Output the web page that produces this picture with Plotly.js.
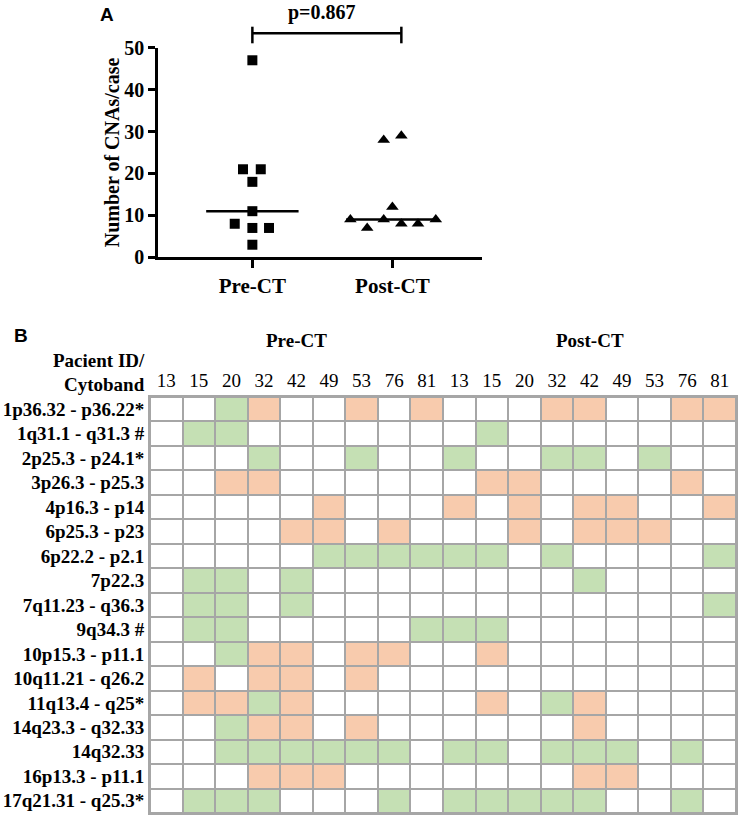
<!DOCTYPE html>
<html>
<head>
<meta charset="utf-8">
<script src="https://cdn.plot.ly/plotly-3.0.1.min.js"></script>
<style>html,body{margin:0;padding:0;background:#fff;}#chart{width:740px;height:818px;}</style>
</head>
<body>
<div id="chart"></div>
<script>
// ---------- Panel A data ----------
const groups = ["Pre-CT", "Post-CT"];
const preValues  = [47, 21, 21, 18, 11, 8, 7, 7, 3];
const preJitter  = [0, -0.067, 0.06, 0, 0, -0.126, 0, 0.119, 0];
const postValues = [29, 28, 12, 9, 7, 9, 8, 8, 9];
const postJitter = [0.064, -0.062, 0, -0.3, -0.18, -0.062, 0.064, 0.183, 0.31];
const pValueText = "p=0.867";

// ---------- Panel B data ----------
const patientIds = ["13", "15", "20", "32", "42", "49", "53", "76", "81"];
const cytobands = [
  "1p36.32 - p36.22*", "1q31.1 - q31.3 #", "2p25.3 - p24.1*", "3p26.3 - p25.3",
  "4p16.3 - p14", "6p25.3 - p23", "6p22.2 - p2.1", "7p22.3", "7q11.23 - q36.3",
  "9q34.3 #", "10p15.3 - p11.1", "10q11.21 - q26.2", "11q13.4 - q25*",
  "14q23.3 - q32.33", "14q32.33", "16p13.3 - p11.1", "17q21.31 - q25.3*"
];
// 0 = none, 1 = green, 2 = orange
const preCT = [
  [0,0,1,2,0,0,2,0,2],
  [0,1,1,0,0,0,0,0,0],
  [0,0,0,1,0,0,1,0,0],
  [0,0,2,2,0,0,0,0,0],
  [0,0,0,0,0,2,0,0,0],
  [0,0,0,0,2,2,0,2,0],
  [0,0,0,0,0,1,1,1,1],
  [0,1,1,0,1,0,0,0,0],
  [0,1,1,0,1,0,0,0,0],
  [0,1,1,0,0,0,0,0,1],
  [0,0,1,2,2,0,2,2,0],
  [0,2,0,2,2,0,2,0,0],
  [0,2,2,1,2,0,0,0,0],
  [0,0,1,2,2,0,2,0,0],
  [0,0,1,1,1,1,1,1,0],
  [0,0,0,2,2,2,0,0,0],
  [0,1,1,1,0,0,0,1,0]
];
const postCT = [
  [0,0,0,2,2,0,0,2,2],
  [0,1,0,0,0,0,0,0,0],
  [1,0,0,1,1,0,1,0,0],
  [0,2,2,0,0,0,0,2,0],
  [2,0,2,0,2,2,0,0,2],
  [0,0,2,0,2,2,2,0,0],
  [1,1,0,1,0,0,0,0,1],
  [0,0,0,0,1,0,0,0,0],
  [0,0,0,0,0,0,0,0,1],
  [1,1,0,0,0,0,0,0,0],
  [0,2,0,0,0,0,0,0,0],
  [0,0,0,0,0,0,0,0,0],
  [0,2,0,1,2,0,0,0,0],
  [0,0,0,0,2,0,0,0,0],
  [1,1,0,1,1,1,0,1,0],
  [0,0,0,0,2,2,0,0,0],
  [1,1,1,1,1,0,0,1,0]
];

// ---------- styles ----------
const SERIF = "Liberation Serif, Times New Roman, serif";
const SANS = "Liberation Sans, Arial, sans-serif";
const GREEN = "#c5e0b4", ORANGE = "#f8cbad", GRID = "#a6a6a6";
const W = 740, H = 818;
const px = v => v / W;
const py = v => (H - v) / H;

function median(a) {
  const s = a.slice().sort((p, q) => p - q);
  const m = Math.floor(s.length / 2);
  return s.length % 2 ? s[m] : (s[m - 1] + s[m]) / 2;
}
const halfLine = 0.33;

const traces = [];
traces.push({
  type: "scatter", mode: "markers", xaxis: "x", yaxis: "y",
  x: preValues.map((v, i) => 0 + preJitter[i]), y: preValues,
  marker: {symbol: "square", size: 10, color: "#000"}, cliponaxis: false, hoverinfo: "y"
});
traces.push({
  type: "scatter", mode: "markers", xaxis: "x", yaxis: "y",
  x: postValues.map((v, i) => 1 + postJitter[i]), y: postValues,
  marker: {symbol: "triangle-up", size: 11, color: "#000"}, cliponaxis: false, hoverinfo: "y"
});
[preValues, postValues].forEach((vals, g) => {
  const m = median(vals);
  traces.push({
    type: "scatter", mode: "lines", xaxis: "x", yaxis: "y",
    x: [g - halfLine, g + halfLine], y: [m, m],
    line: {color: "#000", width: 2.5}, hoverinfo: "skip"
  });
});

// heatmap
const allIds = patientIds.concat(patientIds);
const colIdx = allIds.map((d, i) => i);
const z = cytobands.map((c, r) => preCT[r].concat(postCT[r]));
traces.push({
  type: "heatmap", xaxis: "x2", yaxis: "y2",
  x: colIdx, y: cytobands, z: z, zmin: 0, zmax: 2,
  colorscale: [[0, "#ffffff"], [0.3333, "#ffffff"], [0.3333, GREEN], [0.6667, GREEN], [0.6667, ORANGE], [1, ORANGE]],
  showscale: false, xgap: 2, ygap: 2, hoverinfo: "skip"
});

const bracketY = py(33.3), bracketTop = py(26.7), bracketBot = py(43.3);
const bracketRight = 1.064;
const bold = (size, fam) => ({family: fam || SERIF, size: size, weight: "bold", color: "#000"});

const layout = {
  width: W, height: H,
  margin: {l: 0, r: 0, t: 0, b: 0},
  paper_bgcolor: "#fff", plot_bgcolor: "rgba(0,0,0,0)",
  showlegend: false,
  font: {family: SERIF, color: "#000"},
  xaxis: {
    domain: [px(158), px(482)], anchor: "y",
    range: [-0.674, 1.64], tickvals: [0, 1], ticktext: groups,
    showline: true, linecolor: "#000", linewidth: 2.5,
    ticks: "outside", ticklen: 8, tickwidth: 2.5, tickcolor: "#000",
    showgrid: false, zeroline: false,
    tickfont: bold(21)
  },
  yaxis: {
    domain: [(H - 257.3) / H, (H - 47.7) / H], anchor: "x",
    range: [0, 50], dtick: 10,
    showline: true, linecolor: "#000", linewidth: 2.5,
    ticks: "outside", ticklen: 7, tickwidth: 2.5, tickcolor: "#000",
    showgrid: false, zeroline: false,
    tickfont: bold(20),
    title: {text: "Number of CNAs/case", font: bold(20), standoff: 0}
  },
  xaxis2: {
    domain: [px(150), px(736)], anchor: "y2", side: "top",
    range: [-0.5, 17.5], tickvals: colIdx, ticktext: allIds,
    showline: true, mirror: true, linecolor: GRID, linewidth: 2,
    ticks: "", showgrid: false, zeroline: false,
    tickfont: {family: SERIF, size: 19, color: "#000"}
  },
  yaxis2: {
    domain: [py(813), py(397)], anchor: "x2",
    type: "category", autorange: "reversed",
    showline: true, mirror: true, linecolor: GRID, linewidth: 2,
    ticks: "", showgrid: false, zeroline: false,
    tickfont: bold(19)
  },
  shapes: [
    {type: "rect", xref: "x2 domain", yref: "y2 domain", x0: 0, x1: 1, y0: 0, y1: 1,
     fillcolor: GRID, line: {width: 0}, layer: "below"},
    {type: "line", xref: "x", yref: "paper", x0: 0, x1: bracketRight, y0: bracketY, y1: bracketY,
     line: {color: "#000", width: 2.5}},
    {type: "line", xref: "x", yref: "paper", x0: 0, x1: 0, y0: bracketTop, y1: bracketBot,
     line: {color: "#000", width: 2.5}},
    {type: "line", xref: "x", yref: "paper", x0: bracketRight, x1: bracketRight, y0: bracketTop, y1: bracketBot,
     line: {color: "#000", width: 2.5}}
  ],
  annotations: [
    {text: "A", xref: "paper", yref: "paper", x: px(98), y: py(15), yanchor: "middle", showarrow: false,
     font: bold(19, SANS)},
    {text: "B", xref: "paper", yref: "paper", x: px(12), y: py(335), yanchor: "middle", showarrow: false,
     font: bold(19, SANS)},
    {text: pValueText, xref: "x", yref: "paper", x: 0.5, y: py(13), yanchor: "middle", showarrow: false,
     font: bold(20)},
    {text: "Pre-CT", xref: "x2", yref: "paper", x: 4, y: py(341), yanchor: "middle", showarrow: false,
     font: bold(19)},
    {text: "Post-CT", xref: "x2", yref: "paper", x: 13, y: py(341), yanchor: "middle", showarrow: false,
     font: bold(19)},
    {text: "Pacient ID/", xref: "paper", yref: "paper", x: px(147), xanchor: "right", y: py(360), yanchor: "middle", showarrow: false,
     font: bold(19)},
    {text: "Cytoband", xref: "paper", yref: "paper", x: px(147), xanchor: "right", y: py(384), yanchor: "middle", showarrow: false,
     font: bold(19)}
  ]
};

Plotly.newPlot("chart", traces, layout, {displayModeBar: false, responsive: false});
</script>
</body>
</html>
